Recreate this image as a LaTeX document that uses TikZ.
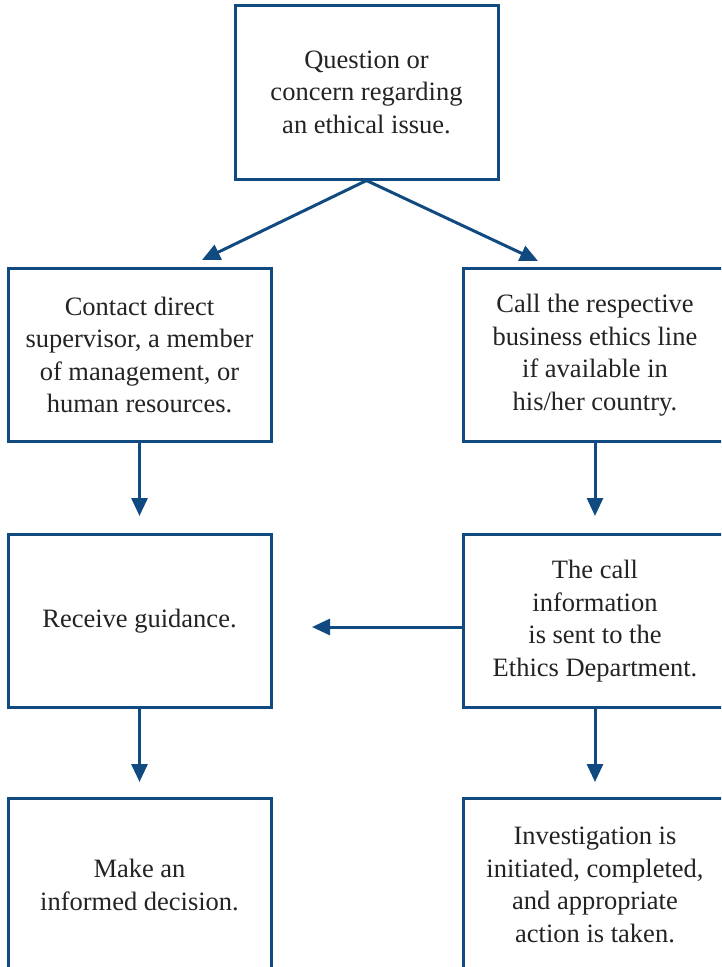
\documentclass[tikz,border=0pt]{standalone}
\usepackage{fontspec}
\setmainfont{Liberation Serif}
\usetikzlibrary{arrows.meta}
\definecolor{boxblue}{RGB}{16,74,128}
\definecolor{txtgray}{RGB}{35,35,35}
\begin{document}
\begin{tikzpicture}[x=1pt,y=-1pt,
  flowbox/.style={draw=boxblue,line width=3pt,inner sep=0pt,align=center,
    text=txtgray,font=\fontsize{26.5}{32.5}\selectfont},
  flowarrow/.style={draw=boxblue,line width=3pt,-{Triangle[length=18pt,width=16pt]}}]
\useasboundingbox (0,0) rectangle (721,967);
\clip (0,0) rectangle (721,967);
\node[flowbox,minimum width=263pt,minimum height=174pt] (q) at (366.5,92) {Question or\\concern regarding\\an ethical issue.};
\node[flowbox,minimum width=263pt,minimum height=173pt] (l1) at (139.5,355) {Contact direct\\supervisor, a member\\of management, or\\human resources.};
\node[flowbox,minimum width=263pt,minimum height=173pt] (r1) at (595,355) {Call the respective\\business ethics line\\if available in\\his/her country.};
\node[flowbox,minimum width=263pt,minimum height=173pt] (l2) at (139.5,621) {Receive guidance.};
\node[flowbox,minimum width=263pt,minimum height=173pt] (r2) at (595,621) {The call\\information\\is sent to the\\Ethics Department.};
\node[flowbox,minimum width=263pt,minimum height=174pt] (l3) at (139.5,885) {Make an\\informed decision.};
\node[flowbox,minimum width=263pt,minimum height=174pt] (r3) at (595,885) {Investigation is\\initiated, completed,\\and appropriate\\action is taken.};
\coordinate (lt) at (202,260);
\coordinate (rt) at (538,261);
\coordinate (l1t) at (139.5,516);
\coordinate (r1t) at (595,516);
\coordinate (l2t) at (139.5,782);
\coordinate (r2t) at (595,782);
\coordinate (ht) at (312,627);
\draw[flowarrow] (q.south) -- (lt);
\draw[flowarrow] (q.south) -- (rt);
\draw[flowarrow] (l1.south) -- (l1t);
\draw[flowarrow] (r1.south) -- (r1t);
\draw[flowarrow] (l2.south) -- (l2t);
\draw[flowarrow] (r2.south) -- (r2t);
\draw[flowarrow] (r2.west |- ht) -- (ht);
\end{tikzpicture}
\end{document}
